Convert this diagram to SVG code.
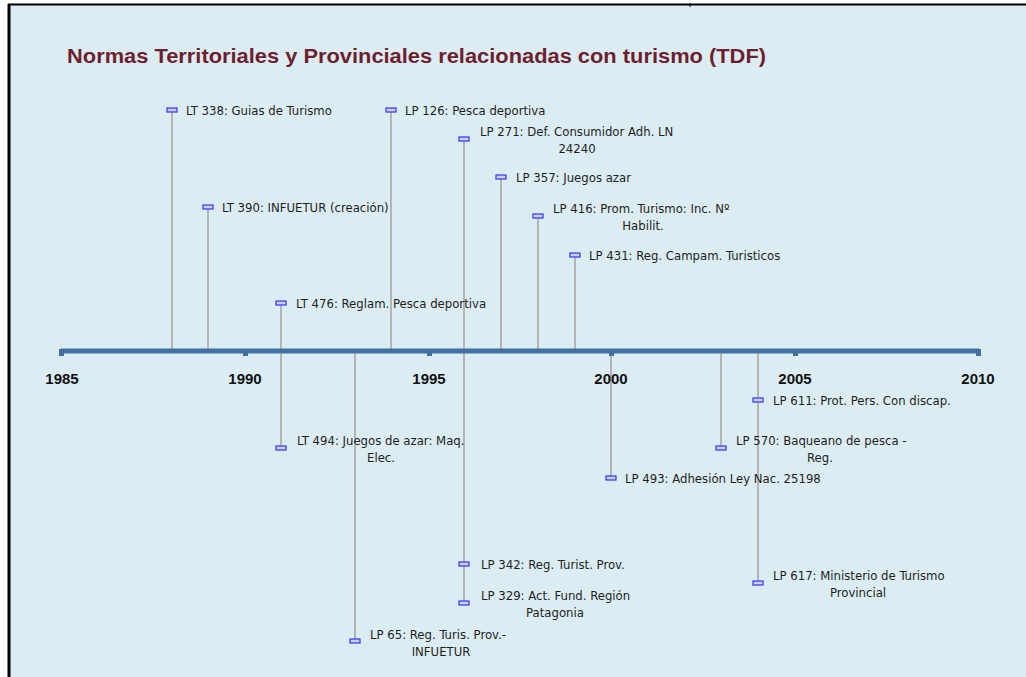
<svg xmlns="http://www.w3.org/2000/svg" width="1026" height="677" viewBox="0 0 1026 677">
<style>
.lbl{font-family:"DejaVu Sans Condensed","Liberation Sans",sans-serif;font-size:13px;fill:#1e1e1e}
.yr{font-family:"Liberation Sans",Arial,sans-serif;font-size:15px;font-weight:bold;fill:#111;text-anchor:middle}
.stem{stroke:#b4b4b4;stroke-width:2}
.mk{fill:#c8d0ff;stroke:#3333ee;stroke-width:1.2}
.ttl{font-family:"Liberation Sans",sans-serif;font-size:21px;font-weight:bold;fill:#6e1f2f}
</style>
<defs>
<rect id="m" x="-5" y="-2" width="10" height="4" class="mk"/>
</defs>
<rect x="0" y="0" width="1026" height="677" fill="#ffffff"/>
<rect x="9" y="5" width="1017" height="672" fill="#dbedf3"/>
<line x1="8" y1="4.5" x2="1026" y2="4.5" stroke="#000" stroke-width="2"/>
<line x1="9" y1="4" x2="9" y2="677" stroke="#000" stroke-width="3"/>
<line x1="690" y1="3" x2="690" y2="7" stroke="#000" stroke-width="1"/>
<text class="ttl" x="67" y="63" textLength="699" lengthAdjust="spacingAndGlyphs">Normas Territoriales y Provinciales relacionadas con turismo (TDF)</text>

<g id="connectors">
<line class="stem" x1="172" y1="110" x2="172" y2="350"/>
<line class="stem" x1="208" y1="207" x2="208" y2="350"/>
<line class="stem" x1="281" y1="303" x2="281" y2="350"/>
<line class="stem" x1="391" y1="110" x2="391" y2="350"/>
<line class="stem" x1="464" y1="139" x2="464" y2="350"/>
<line class="stem" x1="501" y1="177" x2="501" y2="350"/>
<line class="stem" x1="538" y1="216" x2="538" y2="350"/>
<line class="stem" x1="575" y1="255" x2="575" y2="350"/>
<line class="stem" x1="281" y1="353" x2="281" y2="448"/>
<line class="stem" x1="355" y1="353" x2="355" y2="641"/>
<line class="stem" x1="464" y1="353" x2="464" y2="603"/>
<line class="stem" x1="611" y1="353" x2="611" y2="478"/>
<line class="stem" x1="721" y1="353" x2="721" y2="448"/>
<line class="stem" x1="758" y1="353" x2="758" y2="583"/>
</g>

<g id="axis">
<rect x="61" y="348.5" width="918" height="5" fill="#4270a0"/>
<rect x="59" y="349" width="5" height="7" fill="#4270a0"/>
<rect x="243" y="351" width="5" height="5" fill="#4270a0"/>
<rect x="427" y="351" width="5" height="5" fill="#4270a0"/>
<rect x="609" y="351" width="5" height="5" fill="#4270a0"/>
<rect x="793" y="351" width="5" height="5" fill="#4270a0"/>
<rect x="976" y="349" width="5" height="7" fill="#4270a0"/>
<text class="yr" x="62" y="384">1985</text>
<text class="yr" x="245" y="384">1990</text>
<text class="yr" x="429" y="384">1995</text>
<text class="yr" x="611" y="384">2000</text>
<text class="yr" x="795" y="384">2005</text>
<text class="yr" x="978" y="384">2010</text>
</g>

<g id="lt338"><use href="#m" x="172" y="110"/><text class="lbl" x="186" y="115">LT 338: Guias de Turismo</text></g>
<g id="lt390"><use href="#m" x="208" y="207"/><text class="lbl" x="222" y="212">LT 390: INFUETUR (creación)</text></g>
<g id="lt476"><use href="#m" x="281" y="303"/><text class="lbl" x="296" y="308">LT 476: Reglam. Pesca deportiva</text></g>
<g id="lp126"><use href="#m" x="391" y="110"/><text class="lbl" x="405" y="115">LP 126: Pesca deportiva</text></g>
<g id="lp271"><use href="#m" x="464" y="139"/><text class="lbl" x="480" y="136">LP 271: Def. Consumidor Adh. LN</text><text class="lbl" x="577" y="153" text-anchor="middle">24240</text></g>
<g id="lp357"><use href="#m" x="501" y="177"/><text class="lbl" x="516" y="182">LP 357: Juegos azar</text></g>
<g id="lp416"><use href="#m" x="538" y="216"/><text class="lbl" x="553" y="213">LP 416: Prom. Turismo: Inc. Nº</text><text class="lbl" x="643" y="230" text-anchor="middle">Habilit.</text></g>
<g id="lp431"><use href="#m" x="575" y="255"/><text class="lbl" x="589" y="260">LP 431: Reg. Campam. Turisticos</text></g>
<g id="lt494"><use href="#m" x="281" y="448"/><text class="lbl" x="297" y="445">LT 494: Juegos de azar: Maq.</text><text class="lbl" x="381" y="462" text-anchor="middle">Elec.</text></g>
<g id="lp65"><use href="#m" x="355" y="641"/><text class="lbl" x="370" y="639">LP 65: Reg. Turis. Prov.-</text><text class="lbl" x="441" y="656" text-anchor="middle">INFUETUR</text></g>
<g id="lp342"><use href="#m" x="464" y="564"/><text class="lbl" x="481" y="569">LP 342: Reg. Turist. Prov.</text></g>
<g id="lp329"><use href="#m" x="464" y="603"/><text class="lbl" x="481" y="600">LP 329: Act. Fund. Región</text><text class="lbl" x="555" y="617" text-anchor="middle">Patagonia</text></g>
<g id="lp493"><use href="#m" x="611" y="478"/><text class="lbl" x="625" y="483">LP 493: Adhesión Ley Nac. 25198</text></g>
<g id="lp570"><use href="#m" x="721" y="448"/><text class="lbl" x="736" y="445">LP 570: Baqueano de pesca -</text><text class="lbl" x="820" y="462" text-anchor="middle">Reg.</text></g>
<g id="lp611"><use href="#m" x="758" y="400"/><text class="lbl" x="773" y="405">LP 611: Prot. Pers. Con discap.</text></g>
<g id="lp617"><use href="#m" x="758" y="583"/><text class="lbl" x="773" y="580">LP 617: Ministerio de Turismo</text><text class="lbl" x="858" y="597" text-anchor="middle">Provincial</text></g>
</svg>
